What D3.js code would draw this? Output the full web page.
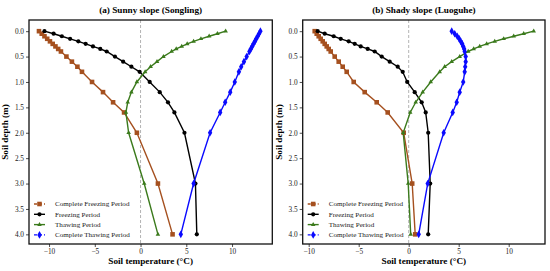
<!DOCTYPE html>
<html>
<head>
<meta charset="utf-8">
<script src="https://cdn.jsdelivr.net/npm/d3@7"></script>
<style>
  html, body { margin: 0; padding: 0; background: #fff; }
  svg text { font-family: "Liberation Serif", "Times New Roman", serif; }
</style>
</head>
<body>
<div id="chart"></div>
<script>
// depths (m) shared by every profile
const depths = [0, 0.05, 0.1, 0.15, 0.2, 0.25, 0.3, 0.35, 0.4, 0.5, 0.6, 0.7, 0.8, 1.0, 1.2, 1.4, 1.6, 2.0, 3.0, 4.0];

const periodNames = ["Complete Freezing Period", "Freezing Period", "Thawing Period", "Complete Thawing Period"];

// (a) Sunny slope (Songling), soil temperature in °C
const sunnyCompleteFreezing = [-11.1, -10.8, -10.5, -10.2, -9.9, -9.6, -9.3, -9.0, -8.7, -8.1, -7.5, -6.9, -6.4, -5.3, -4.1, -3.0, -1.8, -0.4, 1.9, 3.5];
const sunnyFreezing = [-10.5, -9.5, -8.6, -7.7, -6.8, -6.0, -5.2, -4.4, -3.7, -2.8, -1.9, -1.0, -0.1, 1.0, 2.1, 3.0, 3.7, 4.8, 6.0, 6.15];
const sunnyThawing = [9.3, 8.4, 7.5, 6.6, 5.8, 5.1, 4.5, 3.9, 3.4, 2.5, 1.8, 1.1, 0.5, -0.4, -1.0, -1.4, -1.6, -1.3, 0.4, 1.9];
const sunnyCompleteThawing = [13.1, 12.95, 12.8, 12.65, 12.5, 12.35, 12.2, 12.05, 11.9, 11.6, 11.3, 11.0, 10.75, 10.3, 9.8, 9.25, 8.7, 7.6, 5.8, 4.4];

// (b) Shady slope (Luoguhe)
const shadyCompleteFreezing = [-9.4, -9.2, -9.0, -8.8, -8.6, -8.4, -8.2, -8.0, -7.8, -7.4, -7.0, -6.6, -6.2, -5.5, -4.4, -3.2, -2.1, -0.5, 0.35, 0.65];
const shadyFreezing = [-9.1, -8.4, -7.5, -6.8, -6.0, -5.4, -4.8, -4.1, -3.4, -2.7, -1.9, -1.1, -0.6, -0.15, 0.6, 1.3, 1.7, 1.95, 2.15, 1.95];
const shadyThawing = [12.5, 11.5, 10.5, 9.5, 8.6, 7.8, 7.1, 6.5, 5.95, 5.1, 4.3, 3.6, 3.1, 2.2, 1.4, 0.7, 0.15, -0.55, -0.05, 0.2];
const shadyCompleteThawing = [4.3, 4.6, 4.85, 5.05, 5.2, 5.35, 5.45, 5.55, 5.6, 5.7, 5.7, 5.65, 5.6, 5.45, 5.1, 4.8, 4.4, 3.5, 1.9, 1.0];

const xTicks = [-10, -5, 0, 5, 10];
const yTicks = [0, 0.5, 1, 1.5, 2, 2.5, 3, 3.5, 4];

const styles = [
  { color: "#a5501f", symbol: d3.symbolSquare, size: 21, legendDash: "3,2" },
  { color: "#000000", symbol: d3.symbolCircle, size: 14, legendDash: null },
  { color: "#3b7a1c", symbol: d3.symbolTriangle, size: 9, legendDash: null },
  { color: "#0a0aff", symbol: d3.symbolDiamond, size: 17, legendDash: "3,2" }
];

const svg = d3.select("#chart").append("svg")
  .attr("width", 550)
  .attr("height", 271);

function drawPanel({ title, series, xDomain, xRange }) {
  const x = d3.scaleLinear().domain(xDomain).range(xRange);
  const y = d3.scaleLinear().domain([-0.22, 4.19]).range([20, 244]);
  const g = svg.append("g");

  // zero line
  g.append("line")
    .attr("x1", x(0)).attr("x2", x(0))
    .attr("y1", y.range()[0]).attr("y2", y.range()[1])
    .attr("stroke", "#a0a0a0")
    .attr("stroke-width", 0.8)
    .attr("stroke-dasharray", "3,2");

  const line = d3.line()
    .x(d => x(d[1]))
    .y(d => y(d[0]));

  series.forEach((vals, i) => {
    const st = styles[i];
    const pts = depths.map((d, j) => [d, vals[j]]);
    g.append("path")
      .datum(pts)
      .attr("fill", "none")
      .attr("stroke", st.color)
      .attr("stroke-width", 1.4)
      .attr("d", line);
    g.selectAll(null)
      .data(pts)
      .enter().append("path")
      .attr("transform", d => `translate(${x(d[1])},${y(d[0])})`)
      .attr("d", d3.symbol().type(st.symbol).size(st.size))
      .attr("fill", st.color);
  });

  // axes
  const xAxis = g.append("g")
    .attr("transform", `translate(0,${y.range()[1]})`)
    .call(d3.axisBottom(x).tickValues(xTicks).tickSize(3).tickPadding(2)
      .tickFormat(d => d < 0 ? "\u2212" + Math.abs(d) : d));
  const yAxis = g.append("g")
    .attr("transform", `translate(${xRange[0]},0)`)
    .call(d3.axisLeft(y).tickValues(yTicks).tickSize(3).tickPadding(2).tickFormat(d3.format(".1f")));
  [xAxis, yAxis].forEach(a => {
    a.select(".domain").remove();
    a.selectAll("text").attr("font-size", 7.3).attr("font-family", "Liberation Serif").attr("fill", "#222");
    a.selectAll("line").attr("stroke", "#222").attr("stroke-width", 0.8);
  });

  // frame
  g.append("rect")
    .attr("x", xRange[0]).attr("y", 20)
    .attr("width", xRange[1] - xRange[0]).attr("height", 224)
    .attr("fill", "none")
    .attr("stroke", "#111")
    .attr("stroke-width", 1.3);

  const cx = (xRange[0] + xRange[1]) / 2;
  g.append("text")
    .attr("x", cx).attr("y", 12.5)
    .attr("text-anchor", "middle")
    .attr("font-size", 9.2).attr("font-weight", "bold")
    .text(title);

  g.append("text")
    .attr("x", cx).attr("y", 264)
    .attr("text-anchor", "middle")
    .attr("font-size", 9.2).attr("font-weight", "bold")
    .text("Soil temperature (\u00B0C)");

  g.append("text")
    .attr("transform", `translate(${xRange[0] - 21},132) rotate(-90)`)
    .attr("text-anchor", "middle")
    .attr("font-size", 9.2).attr("font-weight", "bold")
    .text("Soil depth (m)");

  // legend
  const lg = g.append("g").attr("transform", `translate(${xRange[0] + 5},204)`);
  periodNames.forEach((name, i) => {
    const st = styles[i];
    const row = lg.append("g").attr("transform", `translate(0,${i * 10.3})`);
    row.append("line")
      .attr("x1", 0).attr("x2", 11)
      .attr("stroke", st.color)
      .attr("stroke-width", 1.4)
      .attr("stroke-dasharray", st.legendDash);
    row.append("path")
      .attr("transform", "translate(5.5,0)")
      .attr("d", d3.symbol().type(st.symbol).size(st.size))
      .attr("fill", st.color);
    row.append("text")
      .attr("x", 21).attr("y", 2.4)
      .attr("font-size", 7.1)
      .attr("fill", "#222")
      .text(name);
  });
}

drawPanel({
  title: "(a) Sunny slope (Songling)",
  series: [sunnyCompleteFreezing, sunnyFreezing, sunnyThawing, sunnyCompleteThawing],
  xDomain: [-12.19, 14.4],
  xRange: [29, 272.3]
});

drawPanel({
  title: "(b) Shady slope (Luoguhe)",
  series: [shadyCompleteFreezing, shadyFreezing, shadyThawing, shadyCompleteThawing],
  xDomain: [-10.6, 13.63],
  xRange: [302.7, 545]
});
</script>
</body>
</html>
